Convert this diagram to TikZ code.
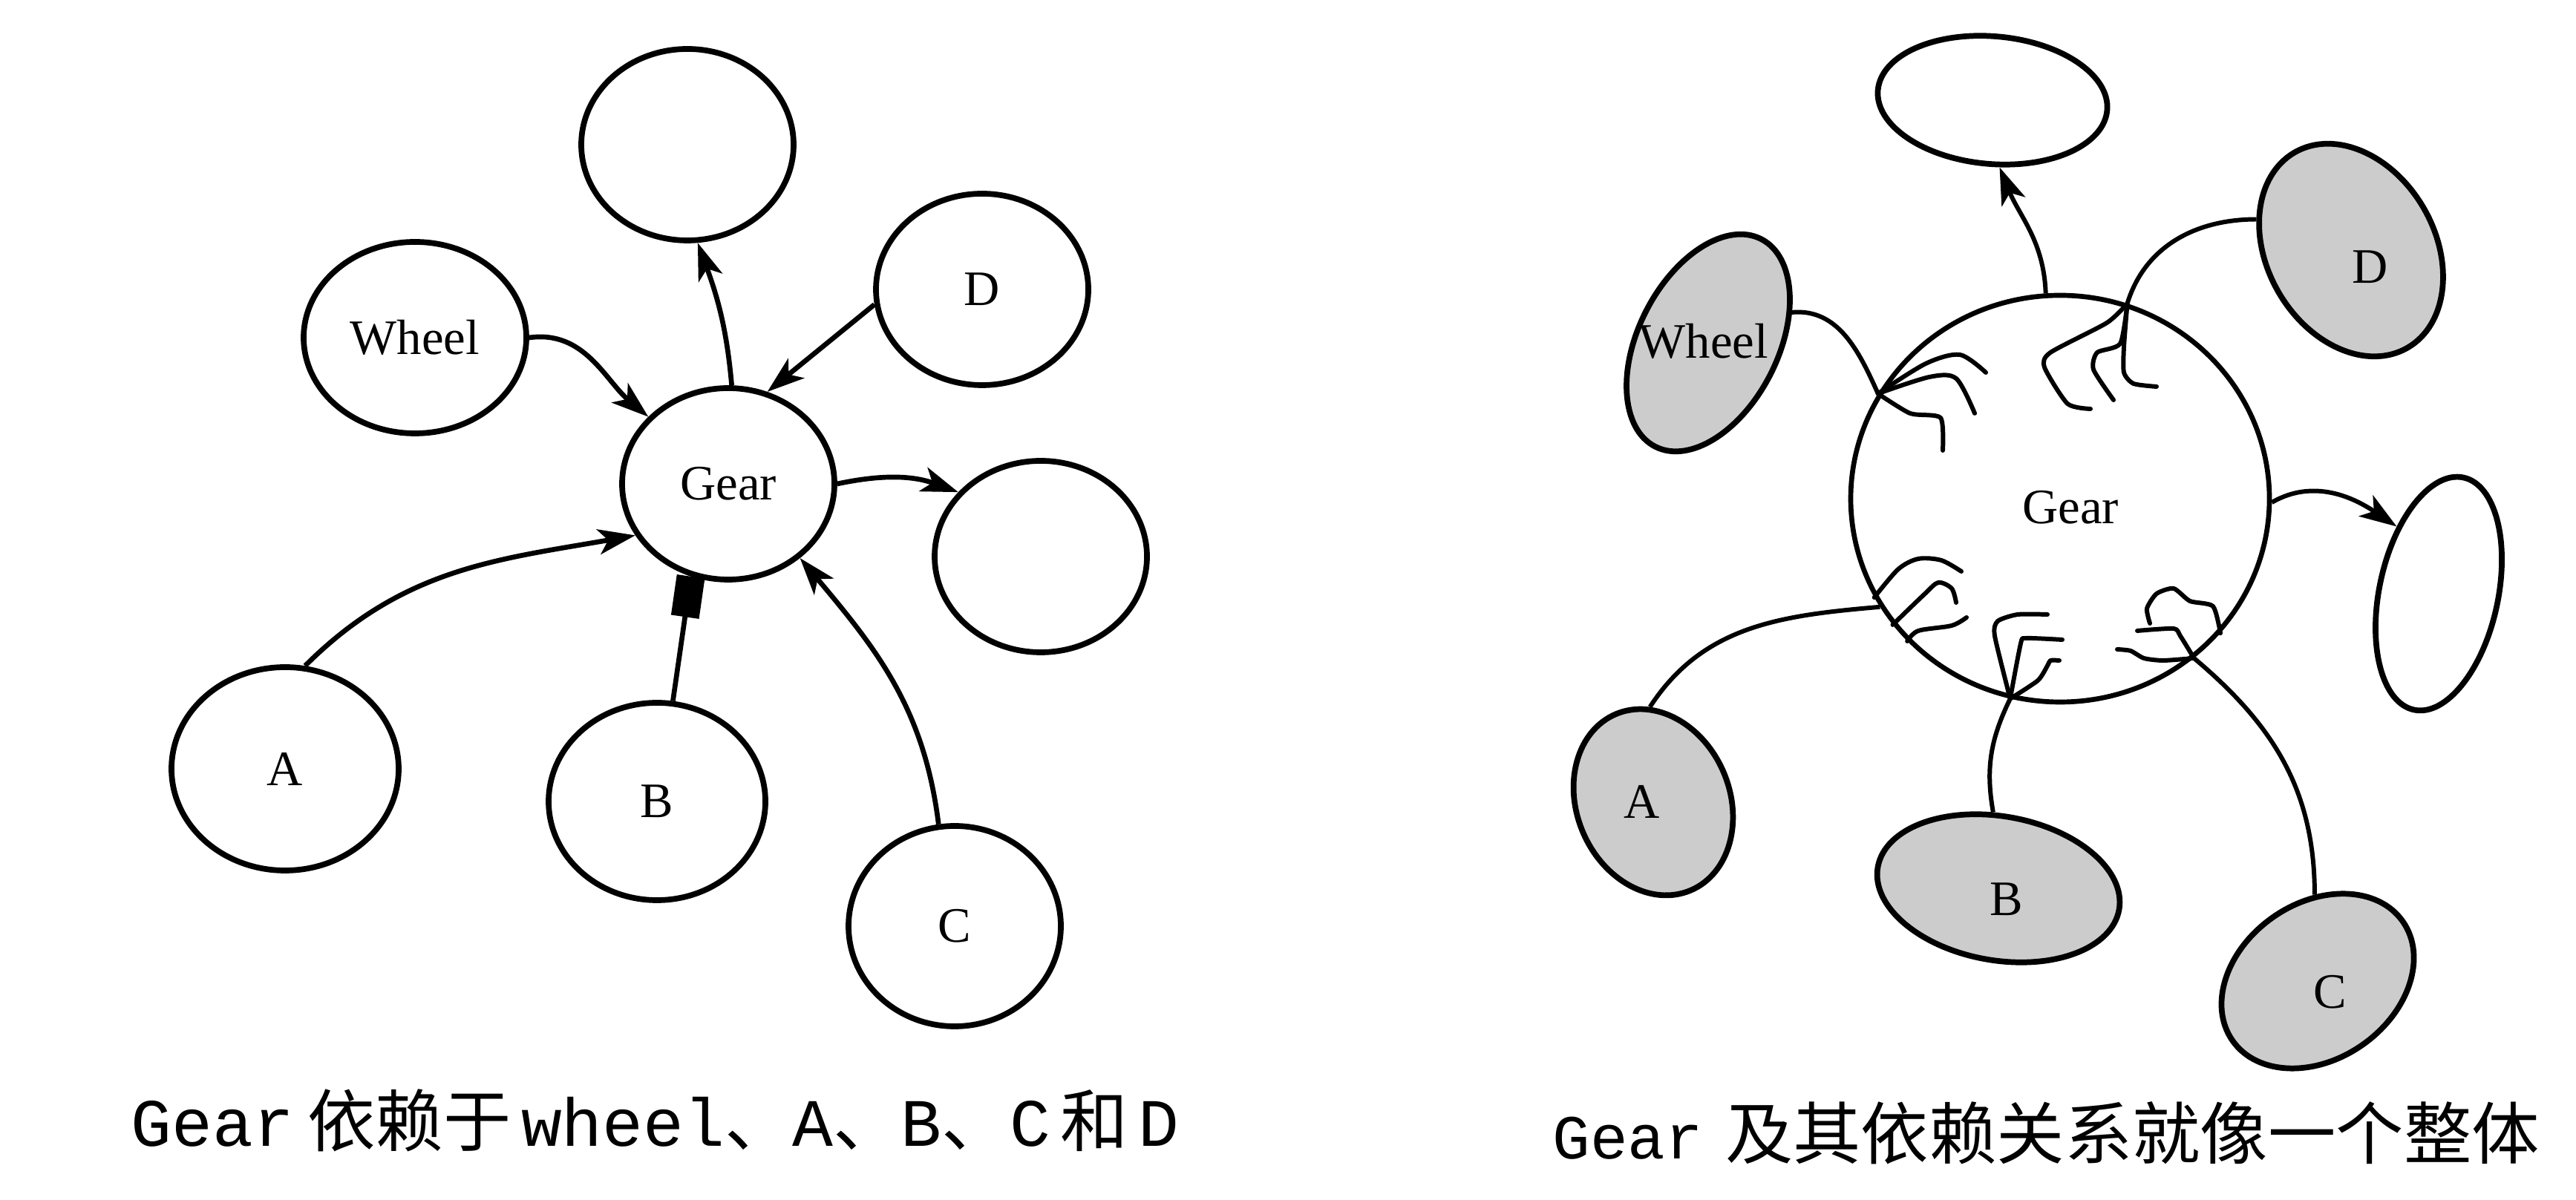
\documentclass[tikz,border=0pt]{standalone}
\usepackage{fontspec}
\setmainfont{Liberation Serif}
\newfontfamily\monofont{Liberation Mono}
\newfontfamily\cjkfont{Noto Sans CJK SC}
\usepackage{tikz}
\usetikzlibrary{arrows.meta,shapes.geometric}
\tikzset{
  plaincircle/.style={ellipse, draw, line width=2.2pt, inner sep=0pt, minimum width=2.86cm, minimum height=2.58cm, font=\fontsize{19}{19}\selectfont},
  blob/.style={ellipse, draw, line width=2.2pt, inner sep=0pt, fill=black!20},
  hollow/.style={ellipse, draw, line width=2.2pt, inner sep=0pt},
  lbl/.style={inner sep=0pt, font=\fontsize{19}{19}\selectfont},
  fwd/.style={-{Stealth[length=5mm, width=3.4mm, inset=1.3mm]}, line width=1.9pt},
  link/.style={line width=1.7pt},
  tendril/.style={line width=1.7pt, line cap=round, line join=round},
  captext/.style={anchor=base west, inner sep=0pt},
}

\begin{document}
\begin{tikzpicture}
  \useasboundingbox (0,0) rectangle (34.70,16.17);

  % left: Gear and the nodes it depends on
  \node[plaincircle] (gear1) at (9.81,9.65) {Gear};
  \node[plaincircle] (top1) at (9.26,14.22) {};
  \node[plaincircle, minimum width=3.0cm] (wheel1) at (5.59,11.62) {Wheel};
  \node[plaincircle] (d1) at (13.23,12.27) {D};
  \node[plaincircle] (right1) at (14.02,8.67) {};
  \node[plaincircle, minimum width=3.06cm, minimum height=2.74cm] (a1) at (3.84,5.81) {A};
  \node[plaincircle, minimum width=2.92cm, minimum height=2.66cm] (b1) at (8.85,5.37) {B};
  \node[plaincircle, minimum height=2.7cm] (c1) at (12.86,3.69) {C};

  \draw[fwd] (wheel1.east) to[out=8, in=140] (gear1.140);
  \draw[fwd] (gear1.88) to[out=95, in=-70] (top1.-84);
  \draw[fwd] (d1.188) -- (gear1.67);
  \draw[fwd] (gear1.east) to[out=12, in=160] (right1.142);
  \draw[fwd] (a1.79) to[out=45, in=190] (gear1.209);
  \draw[line width=1.9pt, -{Square[length=5.5mm, width=3.8mm]}] (b1.81) -- (gear1.248);
  \draw[fwd] (c1.99) to[out=97, in=-50] (gear1.-46);

  % right: Gear with its dependencies grown into it
  \node[hollow, line width=1.9pt, minimum width=5.64cm, minimum height=5.48cm] (gear2) at (27.75,9.45) {};
  \node[lbl] (gear2lbl) at (27.89,9.33) {Gear};
  \node[hollow, minimum width=3.1cm, minimum height=1.72cm, rotate=-5] (top2) at (26.84,14.82) {};
  \node[blob, minimum width=3.14cm, minimum height=1.88cm, rotate=63] (wheel2) at (23.01,11.55) {};
  \node[lbl] (wheel2lbl) at (22.95,11.57) {Wheel};
  \node[blob, minimum width=3.04cm, minimum height=2.26cm, rotate=-60] (d2) at (31.67,12.80) {};
  \node[lbl] (d2lbl) at (31.93,12.57) {D};
  \node[hollow, minimum width=3.2cm, minimum height=1.6cm, rotate=78] (right2) at (32.85,8.17) {};
  \node[blob, minimum width=2.58cm, minimum height=2.06cm, rotate=-67] (a2) at (22.27,5.36) {};
  \node[lbl] (a2lbl) at (22.12,5.37) {A};
  \node[blob, minimum width=3.3cm, minimum height=1.94cm, rotate=-10] (b2) at (26.92,4.20) {};
  \node[lbl] (b2lbl) at (27.03,4.05) {B};
  \node[blob, minimum width=2.8cm, minimum height=2.1cm, rotate=35] (c2) at (31.22,2.95) {};
  \node[lbl] (c2lbl) at (31.39,2.80) {C};

  \draw[link] (wheel2.-43) to[out=5, in=114] (gear2.150);
  \draw[fwd, line width=1.7pt] (gear2.94) to[out=92, in=-68] (top2.-79);
  \draw[link] (gear2.71) to[out=73, in=180] (d2.222);
  \draw[fwd, line width=1.7pt] (gear2.359) to[out=30, in=146] (right2.44);
  \draw[link] (a2.159) to[out=57, in=185] (gear2.211);
  \draw[link] (b2.104) to[out=100, in=-116] (gear2.256);
  \draw[link] (c2.57) to[out=90, in=-40] (gear2.310);

  % tangled ends inside Gear
  \draw[tendril] plot[smooth] coordinates {(gear2.150) (25.94,11.27) (26.40,11.39) (26.75,11.15)};
  \draw[tendril] plot[smooth] coordinates {(gear2.150) (25.99,11.09) (26.35,11.07) (26.60,10.60)};
  \draw[tendril] plot[smooth, tension=0.4] coordinates {(gear2.150) (25.73,10.60) (26.14,10.54) (26.17,10.10)};
  \draw[tendril] plot[smooth, tension=0.4] coordinates {(gear2.71) (28.38,11.82) (27.62,11.42) (27.54,11.22) (27.85,10.73) (28.16,10.66)};
  \draw[tendril] plot[smooth, tension=0.4] coordinates {(gear2.71) (28.56,11.54) (28.25,11.42) (28.20,11.19) (28.47,10.78)};
  \draw[tendril] plot[smooth, tension=0.4] coordinates {(gear2.71) (28.61,11.50) (28.61,11.15) (28.74,11.00) (29.05,10.96)};
  \draw[tendril] plot[smooth] coordinates {(gear2.208) (25.57,8.50) (25.84,8.64) (26.15,8.62) (26.42,8.47)};
  \draw[tendril] plot[smooth] coordinates {(gear2.217) (25.93,8.17) (26.11,8.32) (26.29,8.24) (26.35,8.05)};
  \draw[tendril] plot[smooth] coordinates {(gear2.223) (25.84,7.67) (26.29,7.74) (26.49,7.85)};
  \draw[tendril] plot[smooth, tension=0.4] coordinates {(gear2.256) (26.87,7.60) (26.91,7.80) (27.18,7.89) (27.58,7.89)};
  \draw[tendril] plot[smooth, tension=0.4] coordinates {(gear2.256) (27.22,7.50) (27.29,7.57) (27.78,7.55)};
  \draw[tendril] plot[smooth, tension=0.4] coordinates {(gear2.256) (27.45,7.00) (27.58,7.20) (27.62,7.27) (27.74,7.27)};
  \draw[tendril] plot[smooth, tension=0.4] coordinates {(gear2.310) (29.37,7.60) (29.28,7.70) (28.79,7.67)};
  \draw[tendril] plot[smooth, tension=0.4] coordinates {(gear2.310) (29.14,7.27) (28.88,7.30) (28.70,7.40) (28.52,7.42)};
  \draw[tendril] plot[smooth, tension=0.4] coordinates {(gear2.320) (29.81,8.00) (29.50,8.07) (29.28,8.24) (29.05,8.17) (28.92,7.97) (28.96,7.77)};

  \node[captext, font=\fontsize{26}{26}\selectfont] (cap1) at (1.76,0.72)
    {{\monofont Gear}\hspace{0.2em}{\cjkfont 依赖于}\hspace{0.15em}{\monofont wheel}{\cjkfont 、}{\monofont A}{\cjkfont 、}{\monofont B}{\cjkfont 、}{\monofont C}\hspace{0.15em}{\cjkfont 和}\hspace{0.15em}{\monofont D}};
  \node[captext] (cap2) at (20.91,0.55)
    {{\fontsize{24}{24}\selectfont\monofont Gear}\hspace{0.3cm}{\fontsize{26}{26}\selectfont\cjkfont 及其依赖关系就像一个整体}};
\end{tikzpicture}
\end{document}
